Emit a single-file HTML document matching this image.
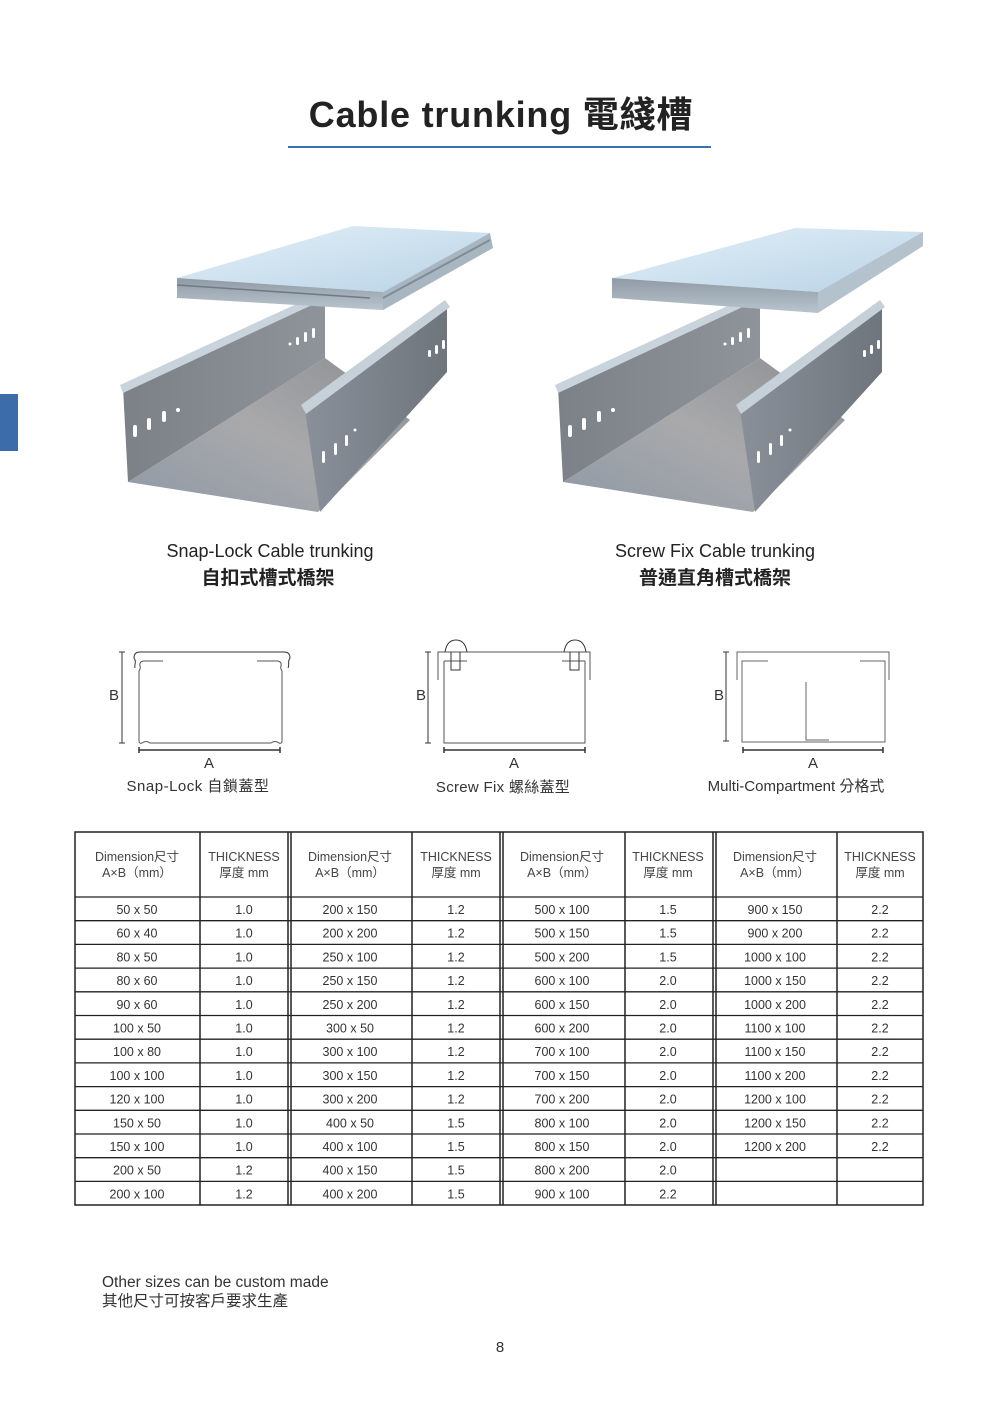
<!DOCTYPE html>
<html><head><meta charset="utf-8"><style>
html,body{margin:0;padding:0;background:#fff;}
svg{display:block;}
text{font-family:"Liberation Sans","Noto Sans CJK TC",sans-serif;}
</style></head><body>
<svg width="1000" height="1414" viewBox="0 0 1000 1414" xmlns="http://www.w3.org/2000/svg">
<defs>
<linearGradient id="lid" x1="0" y1="0" x2="1" y2="1"><stop offset="0" stop-color="#e3f0f8"/><stop offset="1" stop-color="#b9d3e6"/></linearGradient>
<linearGradient id="flap" x1="0" y1="0" x2="0" y2="1"><stop offset="0" stop-color="#8f9aa5"/><stop offset="1" stop-color="#b8c4ce"/></linearGradient>
<linearGradient id="wallL" x1="0" y1="0" x2="1" y2="0"><stop offset="0" stop-color="#7c8188"/><stop offset="1" stop-color="#8f949b"/></linearGradient>
<linearGradient id="wallR" x1="0" y1="0" x2="1" y2="0"><stop offset="0" stop-color="#8a9099"/><stop offset="1" stop-color="#6f757d"/></linearGradient>
<linearGradient id="floor" x1="0" y1="1" x2="1" y2="0"><stop offset="0" stop-color="#8e99a6"/><stop offset="0.5" stop-color="#a9a9ab"/><stop offset="1" stop-color="#8c8f94"/></linearGradient>
<g id="prod">
  <polygon points="563,482 753,512 845,420 760,358" fill="url(#floor)"/>
  <polygon points="558,387 760,295 760,358 563,482" fill="url(#wallL)"/>
  <polygon points="555,385 760,291 762,298 558,393" fill="#c9d3dc"/>
  <polygon points="740,410 882,305 882,372 755,512" fill="url(#wallR)"/>
  <polygon points="736,405 880,300 885,307 741,414" fill="#c6d0d9"/>
  <g fill="#fff">
    <rect x="568" y="425" width="4" height="12" rx="2"/><rect x="582" y="418" width="4" height="12" rx="2"/><rect x="597" y="411" width="4" height="11" rx="2"/><circle cx="613" cy="410" r="2"/>
    <rect x="747" y="328" width="3" height="10" rx="1.5"/><rect x="739" y="332" width="3" height="10" rx="1.5"/><rect x="731" y="337" width="3" height="8" rx="1.5"/><circle cx="725" cy="344" r="1.5"/>
    <rect x="757" y="451" width="3" height="12" rx="1.5"/><rect x="769" y="443" width="3" height="12" rx="1.5"/><rect x="780" y="435" width="3" height="11" rx="1.5"/><circle cx="790" cy="430" r="1.5"/>
    <rect x="877" y="340" width="3" height="9" rx="1.5"/><rect x="870" y="345" width="3" height="9" rx="1.5"/><rect x="863" y="350" width="3" height="7" rx="1.5"/>
  </g>
</g>
</defs>

<!-- Title -->
<text x="501" y="127" text-anchor="middle" font-size="36" font-weight="bold" fill="#222" letter-spacing="0.8">Cable trunking 電綫槽</text>
<rect x="288" y="146" width="423" height="2" fill="#3a6fb0"/>
<rect x="0" y="394" width="18" height="57" fill="#3d6cab"/>

<!-- Products -->
<use href="#prod" transform="translate(-435,0)"/>
<polygon points="177,278 353,226 490,233 383,292" fill="url(#lid)"/>
<polygon points="177,278 383,292 383,310 177,298" fill="url(#flap)"/>
<polygon points="383,292 490,233 493,248 383,310" fill="#a8b6c2"/>
<path d="M383,298 L490,240" stroke="#7f8c98" stroke-width="2"/>
<path d="M177,285 L370,298" stroke="#6f7a86" stroke-width="1.5"/>

<use href="#prod"/>
<polygon points="612,278 795,228 923,232 818,292" fill="url(#lid)"/>
<polygon points="612,278 818,292 818,313 612,298" fill="url(#flap)"/>
<polygon points="818,292 923,232 923,246 818,313" fill="#b4c2ce"/>

<!-- Captions -->
<text x="270" y="557" text-anchor="middle" font-size="18" fill="#222">Snap-Lock Cable trunking</text>
<text x="268" y="584" text-anchor="middle" font-size="19" fill="#222" font-weight="bold">自扣式槽式橋架</text>
<text x="715" y="557" text-anchor="middle" font-size="18" fill="#222">Screw Fix Cable trunking</text>
<text x="715" y="584" text-anchor="middle" font-size="19" fill="#222" font-weight="bold">普通直角槽式橋架</text>

<!-- Diagrams -->
<g stroke="#333" fill="none" stroke-width="1">
  <path d="M122,652 V743 M119,652 H125 M119,743 H125"/>
  <path d="M139,750 H280 M139,747 V753 M280,747 V753" stroke-width="1.5"/>
  <path d="M135,668 C134,664 137,662 134,658 Q134,652 140,652 H284 Q290,652 290,658 C287,662 290,664 288,668"/>
  <path d="M163,661 H143 Q139,662 140,666 Q141,668 139,671 V741 Q139,744 142,743 Q146,740 150,743 H271 Q275,740 279,743 Q282,744 282,741 V671 Q280,668 281,666 Q282,662 278,661 H257" stroke="#555"/>
  <path d="M428,652 V743 M425,652 H431 M425,743 H431"/>
  <path d="M444,750 H585 M444,747 V753 M585,747 V753" stroke-width="1.5"/>
  <path d="M438,680 V652 H590 V680" stroke="#555"/>
  <path d="M444,661 V743 H585 V661 M444,661 H467 M585,661 H562" stroke="#555"/>
  <path d="M451,652 V670 H460 V652 M445,652 Q447,640 456,640 Q465,640 467,652"/>
  <path d="M570,652 V670 H579 V652 M564,652 Q566,640 575,640 Q584,640 586,652"/>
  <path d="M726,652 V741 M723,652 H729 M723,741 H729"/>
  <path d="M743,750 H883 M743,747 V753 M883,747 V753" stroke-width="1.5"/>
  <path d="M737,680 V652 H889 V680" stroke="#666"/>
  <path d="M768,661 H742 V742 H885 V661 H860" stroke="#666"/>
  <path d="M806,682 V740 H829" stroke="#666"/>
</g>
<g font-size="15" fill="#333" text-anchor="middle">
  <text x="114" y="700">B</text><text x="421" y="700">B</text><text x="719" y="700">B</text>
  <text x="209" y="768">A</text><text x="514" y="768">A</text><text x="813" y="768">A</text>
  <text x="198" y="791" letter-spacing="0.5">Snap-Lock 自鎖蓋型</text>
  <text x="503" y="792" letter-spacing="0.3">Screw Fix 螺絲蓋型</text>
  <text x="796" y="791">Multi-Compartment 分格式</text>
</g>

<!-- Table -->
<g stroke="#222" stroke-width="1.5" fill="none">
  <rect x="75" y="832" width="848" height="373"/>
  <path d="M200,832 V1205 M288,832 V1205 M291,832 V1205 M412,832 V1205 M500,832 V1205 M503,832 V1205 M625,832 V1205 M713,832 V1205 M716,832 V1205 M837,832 V1205"/>
  <path d="M75,897 H923 M75,920.7 H923 M75,944.4 H923 M75,968.1 H923 M75,991.8 H923 M75,1015.5 H923 M75,1039.2 H923 M75,1062.9 H923 M75,1086.6 H923 M75,1110.3 H923 M75,1134 H923 M75,1157.7 H923 M75,1181.4 H923" stroke-width="1.3"/>
</g>
<g font-size="12.5" fill="#444" text-anchor="middle">
  <text x="137" y="861">Dimension尺寸</text><text x="137" y="877">A×B（mm）</text>
  <text x="244" y="861">THICKNESS</text><text x="244" y="877">厚度 mm</text>
  <text x="350" y="861">Dimension尺寸</text><text x="350" y="877">A×B（mm）</text>
  <text x="456" y="861">THICKNESS</text><text x="456" y="877">厚度 mm</text>
  <text x="562" y="861">Dimension尺寸</text><text x="562" y="877">A×B（mm）</text>
  <text x="668" y="861">THICKNESS</text><text x="668" y="877">厚度 mm</text>
  <text x="775" y="861">Dimension尺寸</text><text x="775" y="877">A×B（mm）</text>
  <text x="880" y="861">THICKNESS</text><text x="880" y="877">厚度 mm</text>
</g>
<g font-size="12.5" fill="#333" text-anchor="middle">
<text x="137" y="914">50 x 50</text><text x="244" y="914">1.0</text><text x="350" y="914">200 x 150</text><text x="456" y="914">1.2</text><text x="562" y="914">500 x 100</text><text x="668" y="914">1.5</text><text x="775" y="914">900 x 150</text><text x="880" y="914">2.2</text>
<text x="137" y="937.7">60 x 40</text><text x="244" y="937.7">1.0</text><text x="350" y="937.7">200 x 200</text><text x="456" y="937.7">1.2</text><text x="562" y="937.7">500 x 150</text><text x="668" y="937.7">1.5</text><text x="775" y="937.7">900 x 200</text><text x="880" y="937.7">2.2</text>
<text x="137" y="961.4">80 x 50</text><text x="244" y="961.4">1.0</text><text x="350" y="961.4">250 x 100</text><text x="456" y="961.4">1.2</text><text x="562" y="961.4">500 x 200</text><text x="668" y="961.4">1.5</text><text x="775" y="961.4">1000 x 100</text><text x="880" y="961.4">2.2</text>
<text x="137" y="985.1">80 x 60</text><text x="244" y="985.1">1.0</text><text x="350" y="985.1">250 x 150</text><text x="456" y="985.1">1.2</text><text x="562" y="985.1">600 x 100</text><text x="668" y="985.1">2.0</text><text x="775" y="985.1">1000 x 150</text><text x="880" y="985.1">2.2</text>
<text x="137" y="1008.8">90 x 60</text><text x="244" y="1008.8">1.0</text><text x="350" y="1008.8">250 x 200</text><text x="456" y="1008.8">1.2</text><text x="562" y="1008.8">600 x 150</text><text x="668" y="1008.8">2.0</text><text x="775" y="1008.8">1000 x 200</text><text x="880" y="1008.8">2.2</text>
<text x="137" y="1032.5">100 x 50</text><text x="244" y="1032.5">1.0</text><text x="350" y="1032.5">300 x 50</text><text x="456" y="1032.5">1.2</text><text x="562" y="1032.5">600 x 200</text><text x="668" y="1032.5">2.0</text><text x="775" y="1032.5">1100 x 100</text><text x="880" y="1032.5">2.2</text>
<text x="137" y="1056.2">100 x 80</text><text x="244" y="1056.2">1.0</text><text x="350" y="1056.2">300 x 100</text><text x="456" y="1056.2">1.2</text><text x="562" y="1056.2">700 x 100</text><text x="668" y="1056.2">2.0</text><text x="775" y="1056.2">1100 x 150</text><text x="880" y="1056.2">2.2</text>
<text x="137" y="1079.9">100 x 100</text><text x="244" y="1079.9">1.0</text><text x="350" y="1079.9">300 x 150</text><text x="456" y="1079.9">1.2</text><text x="562" y="1079.9">700 x 150</text><text x="668" y="1079.9">2.0</text><text x="775" y="1079.9">1100 x 200</text><text x="880" y="1079.9">2.2</text>
<text x="137" y="1103.6">120 x 100</text><text x="244" y="1103.6">1.0</text><text x="350" y="1103.6">300 x 200</text><text x="456" y="1103.6">1.2</text><text x="562" y="1103.6">700 x 200</text><text x="668" y="1103.6">2.0</text><text x="775" y="1103.6">1200 x 100</text><text x="880" y="1103.6">2.2</text>
<text x="137" y="1127.3">150 x 50</text><text x="244" y="1127.3">1.0</text><text x="350" y="1127.3">400 x 50</text><text x="456" y="1127.3">1.5</text><text x="562" y="1127.3">800 x 100</text><text x="668" y="1127.3">2.0</text><text x="775" y="1127.3">1200 x 150</text><text x="880" y="1127.3">2.2</text>
<text x="137" y="1151">150 x 100</text><text x="244" y="1151">1.0</text><text x="350" y="1151">400 x 100</text><text x="456" y="1151">1.5</text><text x="562" y="1151">800 x 150</text><text x="668" y="1151">2.0</text><text x="775" y="1151">1200 x 200</text><text x="880" y="1151">2.2</text>
<text x="137" y="1174.7">200 x 50</text><text x="244" y="1174.7">1.2</text><text x="350" y="1174.7">400 x 150</text><text x="456" y="1174.7">1.5</text><text x="562" y="1174.7">800 x 200</text><text x="668" y="1174.7">2.0</text>
<text x="137" y="1198.4">200 x 100</text><text x="244" y="1198.4">1.2</text><text x="350" y="1198.4">400 x 200</text><text x="456" y="1198.4">1.5</text><text x="562" y="1198.4">900 x 100</text><text x="668" y="1198.4">2.2</text>
</g>

<text x="102" y="1287" font-size="15.5" fill="#333">Other sizes can be custom made</text>
<text x="102" y="1306" font-size="15.5" fill="#333">其他尺寸可按客戶要求生產</text>
<text x="500" y="1352" text-anchor="middle" font-size="15" fill="#333">8</text>
</svg>
</body></html>
